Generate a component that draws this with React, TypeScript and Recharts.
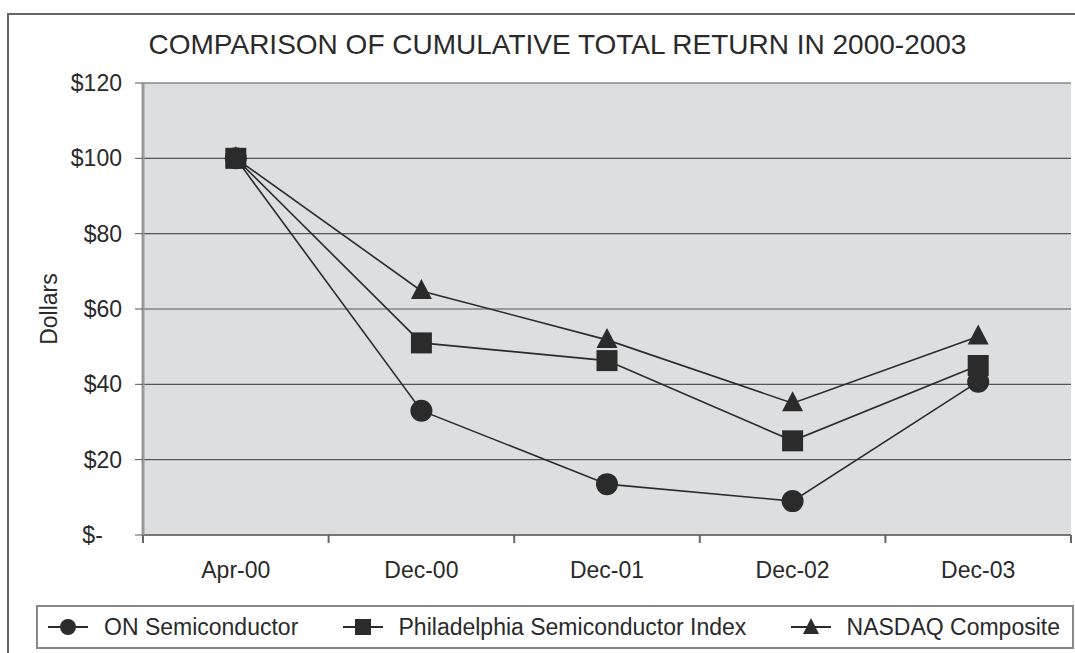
import React from "react";
import { LineChart, Line, XAxis, YAxis, CartesianGrid } from "recharts";

// dollars on a $100 start
const PERIODS = ["Apr-00", "Dec-00", "Dec-01", "Dec-02", "Dec-03"];
const ON_SEMI = [100, 33, 13.5, 9, 40.7];
const SOX_INDEX = [100, 51, 46.3, 25, 45];
const NASDAQ = [100, 64.8, 51.8, 35, 52.7];
const Y_TICKS = [0, 20, 40, 60, 80, 100, 120];
const CATEGORY_EDGES = [0, 1, 2, 3, 4, 5];

const data = PERIODS.map((period, i) => ({
    period,
    edge: i + 0.5,
    on: ON_SEMI[i],
    sox: SOX_INDEX[i],
    nasdaq: NASDAQ[i],
}));

const FONT = '"Liberation Sans", Arial, Helvetica, sans-serif';
const INK = "#2b2b2b";

const formatDollar = (v: number) => (v === 0 ? "$-\u2007\u00a0" : `$${v}`);

const CircleDot = (props: any) => {
    const { cx, cy, index } = props;
    if (cx == null || cy == null) return <g key={`c-${index}`} />;
    return <circle key={`c-${index}`} cx={cx} cy={cy} r={11} fill={INK} />;
};

const SquareDot = (props: any) => {
    const { cx, cy, index } = props;
    if (cx == null || cy == null) return <g key={`s-${index}`} />;
    return <rect key={`s-${index}`} x={cx - 10.5} y={cy - 10.5} width={21} height={21} fill={INK} />;
};

const TriangleDot = (props: any) => {
    const { cx, cy, index } = props;
    if (cx == null || cy == null) return <g key={`t-${index}`} />;
    return (
        <path
            key={`t-${index}`}
            d={`M${cx},${cy - 12} L${cx + 10.5},${cy + 8} L${cx - 10.5},${cy + 8} Z`}
            fill={INK}
        />
    );
};

const LEGEND = [
    { name: "ON Semiconductor", icon: "circle" },
    { name: "Philadelphia Semiconductor Index", icon: "square" },
    { name: "NASDAQ Composite", icon: "triangle" },
];

function LegendIcon({ kind }: { kind: string }) {
    return (
        <svg width={40} height={24} style={{ display: "block" }}>
            <line x1={0} y1={12} x2={40} y2={12} stroke={INK} strokeWidth={2} />
            {kind === "circle" && <circle cx={20} cy={12} r={8} fill={INK} />}
            {kind === "square" && <rect x={12} y={4} width={16} height={16} fill={INK} />}
            {kind === "triangle" && <path d="M20,3 L28,19 L12,19 Z" fill={INK} />}
        </svg>
    );
}

export default function App() {
    return (
        <div
            style={{
                position: "fixed",
                left: 0,
                top: 0,
                width: 1075,
                height: 653,
                background: "#fff",
                fontFamily: FONT,
                overflow: "hidden",
            }}
        >
            {/* outer frame, runs off the bottom/right of the crop */}
            <div
                style={{
                    position: "absolute",
                    left: 7,
                    top: 13,
                    width: 1090,
                    height: 700,
                    border: "2px solid #666",
                    boxSizing: "border-box",
                }}
            />
            <div
                style={{
                    position: "absolute",
                    left: 40,
                    top: 31,
                    width: 1035,
                    textAlign: "center",
                    fontSize: 28,
                    lineHeight: "28px",
                    color: "#2a2a2a",
                    whiteSpace: "nowrap",
                }}
            >
                COMPARISON OF CUMULATIVE TOTAL RETURN IN 2000-2003
            </div>

            <div style={{ position: "absolute", left: 0, top: 0 }}>
                <LineChart
                    width={1075}
                    height={605}
                    data={data}
                    margin={{ top: 83, right: 4, bottom: 30, left: 0 }}
                >
                    <CartesianGrid
                        xAxisId="labels"
                        vertical={false}
                        fill="#dddedf"
                        stroke="#555"
                        strokeWidth={1.2}
                        strokeOpacity={1}
                    />
                    {/* tick marks between categories, Excel style */}
                    <XAxis
                        type="number"
                        dataKey="edge"
                        domain={[0, 5]}
                        ticks={CATEGORY_EDGES}
                        tickFormatter={() => ""}
                        height={10}
                        tickSize={8}
                        tickMargin={0}
                        axisLine={{ stroke: "#777", strokeWidth: 2 }}
                        tickLine={{ stroke: "#666", strokeWidth: 2 }}
                        tick={{ fontSize: 1 }}
                    />
                    <XAxis
                        xAxisId="labels"
                        dataKey="period"
                        scale="band"
                        height={30}
                        tickSize={0}
                        tickMargin={17}
                        tickLine={false}
                        axisLine={false}
                        tick={{ fill: "#2a2a2a", fontSize: 23, fontFamily: FONT }}
                        interval={0}
                    />
                    <YAxis
                        domain={[0, 120]}
                        ticks={Y_TICKS}
                        width={143}
                        tickSize={8}
                        tickMargin={13}
                        tickFormatter={formatDollar}
                        axisLine={{ stroke: "#999", strokeWidth: 3 }}
                        tickLine={{ stroke: "#555" }}
                        tick={{ fill: "#2a2a2a", fontSize: 23, fontFamily: FONT }}
                        label={{
                            value: "Dollars",
                            angle: -90,
                            position: "center",
                            dx: -23,
                            fill: "#2a2a2a",
                            fontSize: 23,
                            fontFamily: FONT,
                        }}
                    />
                    <YAxis
                        yAxisId="right"
                        orientation="right"
                        domain={[0, 120]}
                        ticks={Y_TICKS}
                        width={0}
                        tick={false}
                        tickLine={false}
                        axisLine={{ stroke: "#999", strokeWidth: 2 }}
                    />
                    <Line
                        xAxisId="labels"
                        dataKey="nasdaq"
                        stroke={INK}
                        strokeWidth={1.6}
                        dot={TriangleDot}
                        activeDot={false}
                        isAnimationActive={false}
                    />
                    <Line
                        xAxisId="labels"
                        dataKey="sox"
                        stroke={INK}
                        strokeWidth={1.6}
                        dot={SquareDot}
                        activeDot={false}
                        isAnimationActive={false}
                    />
                    <Line
                        xAxisId="labels"
                        dataKey="on"
                        stroke={INK}
                        strokeWidth={1.6}
                        dot={CircleDot}
                        activeDot={false}
                        isAnimationActive={false}
                    />
                </LineChart>
            </div>

            <div
                style={{
                    position: "absolute",
                    left: 36,
                    top: 605,
                    width: 1038,
                    height: 44,
                    border: "2px solid #888",
                    boxSizing: "border-box",
                    display: "flex",
                    alignItems: "center",
                    justifyContent: "space-between",
                    padding: "0 12px 0 10px",
                    fontSize: 23,
                    color: "#2a2a2a",
                }}
            >
                {LEGEND.map((item) => (
                    <div key={item.name} style={{ display: "flex", alignItems: "center", gap: 16 }}>
                        <LegendIcon kind={item.icon} />
                        <span>{item.name}</span>
                    </div>
                ))}
            </div>
        </div>
    );
}
